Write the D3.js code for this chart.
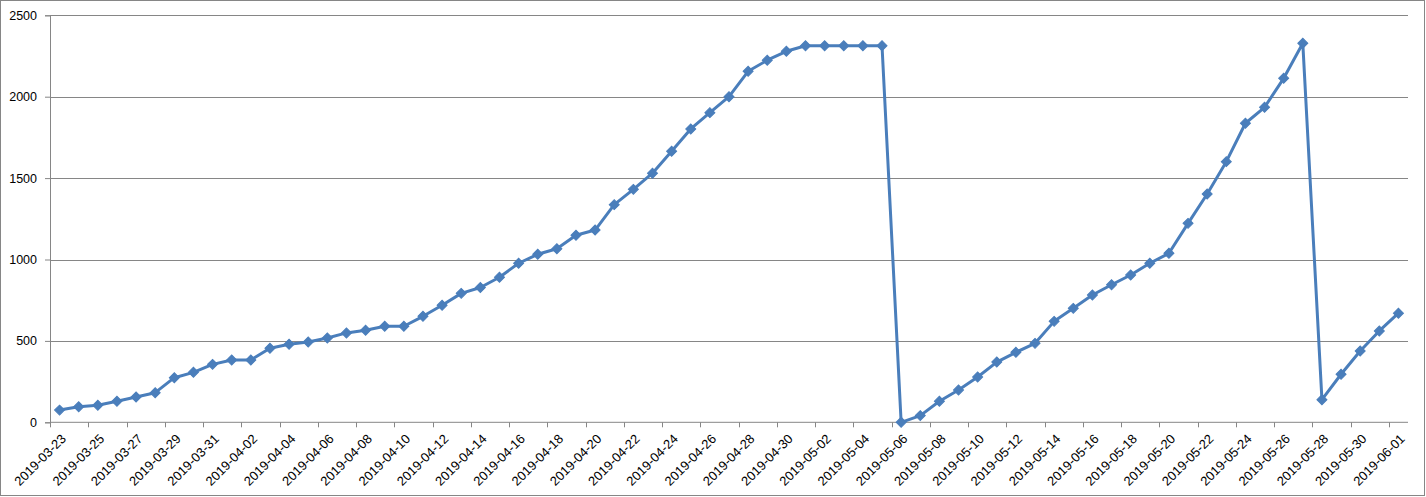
<!DOCTYPE html>
<html lang="en">
<head>
  <meta charset="UTF-8" />
  <title>line chart</title>
  <script src="https://d3js.org/d3.v7.min.js" charset="utf-8"></script>
  <style>
    body { margin: 0; background: #fff; }
    text { font-family: "Liberation Sans", Arial, sans-serif; fill: #000; }
  </style>
</head>
<body>
<script type="text/javascript">

const WIDTH = 1426;
const HEIGHT = 497;

// daily categories, 2019-03-23 .. 2019-06-01
const startDay = new Date(2019, 2, 23);
const endDay = new Date(2019, 5, 2);
const days = d3.timeDay.range(startDay, endDay);

const values = [
    75, 96, 105, 129, 155, 182, 274, 307, 356, 383,
    383, 455, 479, 493, 518, 549, 565, 590, 590, 651,
    719, 792, 828, 891, 977, 1032, 1066, 1149, 1181, 1337,
    1431, 1530, 1665, 1802, 1902, 2000, 2156, 2224, 2279, 2313,
    2313, 2313, 2313, 2313, 0, 41, 129, 198, 278, 370,
    430, 485, 620, 700, 782, 845, 905, 977, 1038, 1222,
    1402, 1601, 1837, 1935, 2113, 2328, 139, 295, 438, 561,
    670
];
const yTicks = [0, 500, 1000, 1500, 2000, 2500];

const fmt = d3.timeFormat("%Y-%m-%d");
const data = days.map((d, i) => ({ key: fmt(d), value: values[i] }));

const svg = d3.select("body")
    .append("svg")
        .attr("width", WIDTH)
        .attr("height", HEIGHT);

// chart border
svg.append("rect")
    .attr("x", 0.5).attr("y", 0.5)
    .attr("width", 1424).attr("height", 495)
    .attr("fill", "none")
    .attr("stroke", "#868686");

const plotL = 50, plotR = 1408, plotT = 15.3, plotB = 422.3;

const x = d3.scaleBand()
    .domain(data.map(d => d.key))
    .range([plotL, plotR])
    .padding(0);

const y = d3.scaleLinear()
    .domain([0, 2500])
    .range([plotB, plotT]);

// y axis + grid
svg.append("g")
    .attr("transform", `translate(${plotL}, 0)`)
    .call(d3.axisLeft(y).tickValues(yTicks).tickFormat(d3.format("d")).tickSize(5).tickPadding(8))
    .call(g => g.select(".domain").attr("stroke", "#868686"))
    .call(g => g.selectAll(".tick line").attr("stroke", "#868686"))
    .call(g => g.selectAll(".tick text")
        .style("font-size", "12.5px")
        .style("font-family", "Liberation Sans, Arial")
        .attr("fill", "#000"));

svg.append("g")
    .selectAll("line")
    .data(yTicks.filter(v => v > 0))
    .join("line")
        .attr("x1", plotL).attr("x2", plotR)
        .attr("y1", d => Math.round(y(d)) + 0.5)
        .attr("y2", d => Math.round(y(d)) + 0.5)
        .attr("stroke", "#868686");

// x axis: ticks between every second category, labels on every second one
const bw = x.bandwidth();
const xAxis = svg.append("g").attr("class", "xaxis");
xAxis.append("line")
    .attr("x1", plotL).attr("x2", plotR)
    .attr("y1", plotB).attr("y2", plotB)
    .attr("stroke", "#868686");

const every2 = data.filter((d, i) => i % 2 === 0);
xAxis.selectAll(".tk")
    .data(every2)
    .join("line")
        .attr("class", "tk")
        .attr("x1", d => Math.round(x(d.key)) + 0.5)
        .attr("x2", d => Math.round(x(d.key)) + 0.5)
        .attr("y1", plotB).attr("y2", plotB + 5)
        .attr("stroke", "#868686");

xAxis.selectAll("text")
    .data(every2)
    .join("text")
        .attr("text-anchor", "end")
        .style("font-size", "13px")
        .attr("transform", d => `translate(${x(d.key) + bw / 2 + 4}, ${plotB + 14}) rotate(-45)`)
        .attr("dy", "0.35em")
        .text(d => d.key);

// line
const line = d3.line()
    .x(d => x(d.key) + bw / 2)
    .y(d => y(d.value));

svg.append("path")
    .datum(data)
    .attr("fill", "none")
    .attr("stroke", "#4A7EBB")
    .attr("stroke-width", 3)
    .attr("stroke-linejoin", "round")
    .attr("d", line);

// diamond markers
svg.append("g")
    .selectAll("path")
    .data(data)
    .join("path")
        .attr("d", d3.symbol(d3.symbolSquare, 50))
        .attr("transform", d => `translate(${x(d.key) + bw / 2}, ${y(d.value)}) rotate(45)`)
        .attr("fill", "#4A7EBB")
        .attr("stroke", "#4A7EBB")
        .attr("stroke-width", 1);

</script>
</body>
</html>
